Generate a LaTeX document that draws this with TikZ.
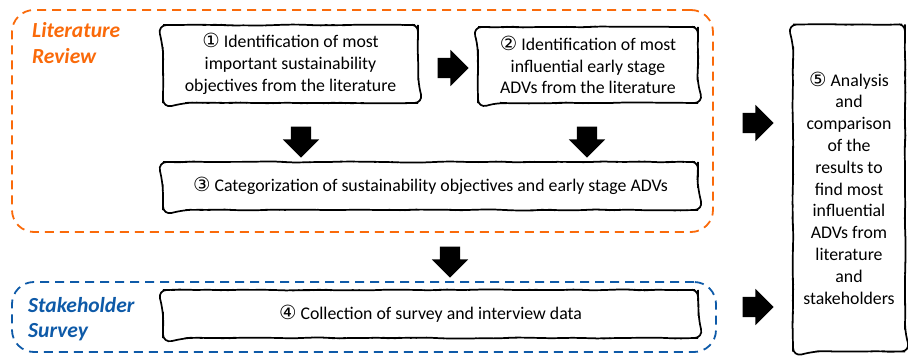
\documentclass[tikz,border=0pt]{standalone}
\usepackage{fontspec}
\setmainfont{Carlito}
\newfontfamily\circfont{DejaVu Sans}
\usetikzlibrary{shapes.arrows,decorations.pathmorphing}

\definecolor{litorange}{HTML}{FA6A0A}
\definecolor{surveyblue}{HTML}{0E5AA8}
\newcommand{\cnum}[1]{{\circfont\fontsize{19.5}{17}\selectfont #1}}

\tikzstyle{task}=[
  draw,
  line width=1.7pt,
  rounded corners=9pt,
  align=center,
  inner sep=2pt,
  font=\fontsize{17.8}{21.8}\selectfont,
  decorate,
  decoration={random steps, segment length=11pt, amplitude=0.6pt, pre length=3pt, post length=3pt},
  ]
\tikzstyle{group}=[ draw, line width=1.8pt, dash pattern=on 9pt off 6pt, rounded corners=22pt ]
\tikzstyle{group label}=[ font=\fontsize{21.5}{25}\selectfont\bfseries\itshape, align=left, anchor=base west, inner sep=0pt ]
\tikzstyle{flow arrow}=[ single arrow, fill=black, draw=none, inner xsep=0pt, inner ysep=10pt,
  minimum height=31pt, single arrow head extend=8pt ]

\begin{document}
\begin{tikzpicture}[x=1pt, y=-1pt]
    \useasboundingbox (0,0) rectangle (908,356);

    % dashed groups
    \node[group, litorange, minimum width=701pt, minimum height=222pt] (litgroup) at (362.5,121) {};
    \node[group, surveyblue, minimum width=704pt, minimum height=70pt] (stakegroup) at (364,317) {};
    \node[group label, litorange] (litlabel) at (32,63) {Literature\\Review};
    \node[group label, surveyblue] (stakelabel) at (28,337) {Stakeholder\\Survey};

    % steps
    \node[task, minimum width=255pt, minimum height=78pt] (s1) at (290.5,64)
      {\cnum{①} Identification of most\\important sustainability\\objectives from the literature};
    \node[task, minimum width=220pt, minimum height=76pt] (s2) at (588,65)
      {\cnum{②} Identification of most\\influential early stage\\ADVs from the literature};
    \node[task, minimum width=535pt, minimum height=48pt] (s3) at (430.5,186)
      {\cnum{③} Categorization of sustainability objectives and early stage ADVs};
    \node[task, minimum width=535pt, minimum height=48pt] (s4) at (430.5,314)
      {\cnum{④} Collection of survey and interview data};
    \node[task, minimum width=112pt, minimum height=327pt] (s5) at (849,188)
      {\cnum{⑤} Analysis\\and\\comparison\\of the\\results to\\find most\\influential\\ADVs from\\literature\\and\\stakeholders};

    % arrows
    \node[flow arrow] (a12) at (448,68) {};
    \node[flow arrow, rotate=-90] (a13) at (301,137) {};
    \node[flow arrow, rotate=-90] (a23) at (587,137) {};
    \node[flow arrow, rotate=-90] (a34) at (450,257) {};
    \node[flow arrow] (a35) at (753,123) {};
    \node[flow arrow] (a45) at (753,307) {};
\end{tikzpicture}
\end{document}
